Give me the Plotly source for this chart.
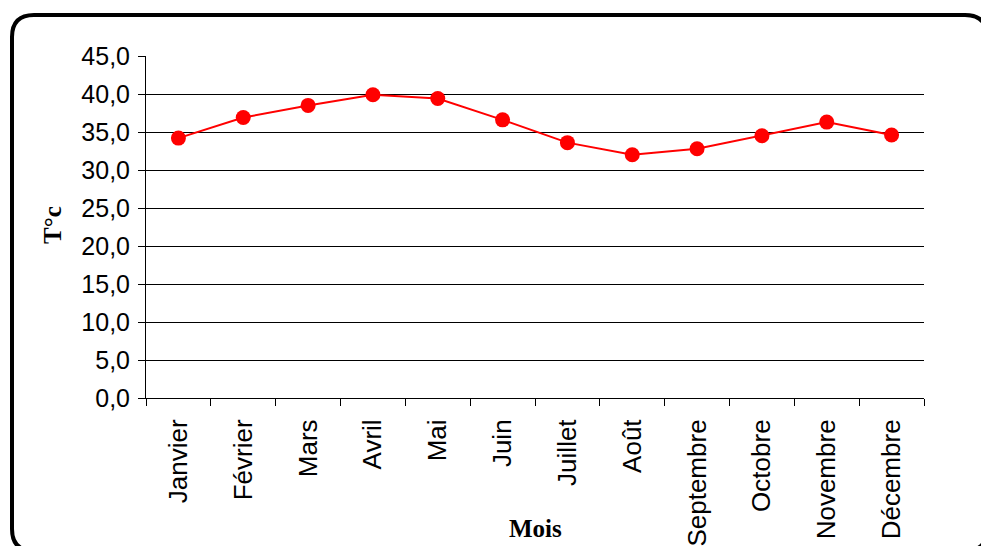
import plotly.graph_objects as go

# Monthly mean temperature
months = ["Janvier", "Février", "Mars", "Avril", "Mai", "Juin", "Juillet",
          "Août", "Septembre", "Octobre", "Novembre", "Décembre"]
temps = [34.2, 36.9, 38.5, 39.9, 39.4, 36.6, 33.6, 32.0, 32.8, 34.5, 36.3, 34.6]

y_ticks = [0, 5, 10, 15, 20, 25, 30, 35, 40, 45]
y_tick_text = [f"{v:.1f}".replace(".", ",") for v in y_ticks]

W, H = 981, 546
ML, MR, MT, MB = 146, 57, 56, 148
PW, PH = W - ML - MR, H - MT - MB


def px_x(px):
    return (px - ML) / PW


def px_y(py):
    return (H - MB - py) / PH


fig = go.Figure()
fig.add_trace(go.Scatter(
    x=months, y=temps, mode="lines+markers",
    line=dict(color="#ff0000", width=2),
    marker=dict(color="#ff0000", size=15),
    showlegend=False,
))

# Rounded outer frame (right and bottom edges run past the page)
x0, x1, y0, y1 = 12, 987, 15, 551
r = 22
frame = (
    f"M {px_x(x0)},{px_y(y0 + r)} "
    f"Q {px_x(x0)},{px_y(y0)} {px_x(x0 + r)},{px_y(y0)} "
    f"L {px_x(x1 - r)},{px_y(y0)} "
    f"Q {px_x(x1)},{px_y(y0)} {px_x(x1)},{px_y(y0 + r)} "
    f"L {px_x(x1)},{px_y(y1 - r)} "
    f"Q {px_x(x1)},{px_y(y1)} {px_x(x1 - r)},{px_y(y1)} "
    f"L {px_x(x0 + r)},{px_y(y1)} "
    f"Q {px_x(x0)},{px_y(y1)} {px_x(x0)},{px_y(y1 - r)} Z"
)
fig.add_shape(type="path", path=frame, xref="paper", yref="paper",
              line=dict(color="black", width=4), layer="above")

serif = "Liberation Serif, Times New Roman, serif"

fig.update_layout(
    width=W, height=H,
    margin=dict(l=ML, r=MR, t=MT, b=MB),
    paper_bgcolor="white", plot_bgcolor="white",
    font=dict(family="Liberation Sans, Arial, sans-serif", color="black"),
    xaxis=dict(
        type="category", range=[-0.5, 11.5], automargin=False,
        tickson="boundaries", ticks="outside", ticklen=7, tickcolor="black",
        showgrid=False, showline=True, linecolor="black", linewidth=1,
        tickangle=-90, tickfont=dict(size=26, color="black"),
        ticklabelstandoff=10,
    ),
    yaxis=dict(
        range=[0, 45], tickvals=y_ticks, ticktext=y_tick_text, automargin=False,
        ticks="outside", ticklen=7, tickcolor="black",
        showgrid=True, gridcolor="black", gridwidth=1,
        showline=True, linecolor="black", linewidth=1,
        tickfont=dict(size=25, color="black"), zeroline=False,
        ticklabelstandoff=3,
    ),
    annotations=[
        dict(text="<b>Mois</b>", x=px_x(535), y=px_y(528), xref="paper", yref="paper",
             xanchor="center", yanchor="middle", showarrow=False,
             font=dict(family=serif, size=25, color="black")),
        dict(text="<b>T°c</b>", x=px_x(53), y=px_y(225), xref="paper", yref="paper",
             xanchor="center", yanchor="middle", showarrow=False, textangle=-90,
             font=dict(family=serif, size=25, color="black")),
    ],
)

fig.write_html("out.html")
